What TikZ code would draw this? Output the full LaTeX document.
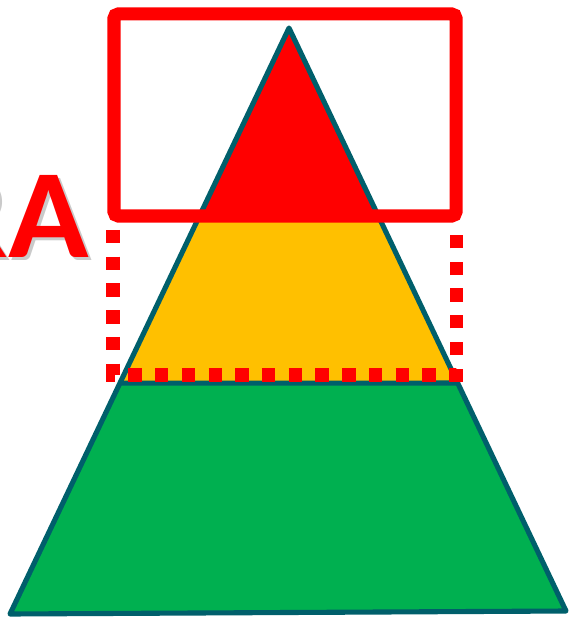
\documentclass[tikz,border=0pt]{standalone}
\usepackage{fontspec}
\setmainfont{Carlito}
\usepackage{xcolor}
\usepackage{tikz}
\usetikzlibrary{calc}

\definecolor{edgeteal}{HTML}{005F6B}
\definecolor{topred}{HTML}{FF0000}
\definecolor{midorange}{HTML}{FFC000}
\definecolor{basegreen}{HTML}{00B050}

\begin{document}
\begin{tikzpicture}[
  x=0.01cm, y=-0.01cm,
  edge/.style={draw=edgeteal, line width=1.45pt, line join=round},
  frame/.style={draw=topred, line width=3.7pt, rounded corners=1.2pt},
  dots/.style={draw=topred, line width=3.7pt, dash pattern=on 3.8pt off 3.8pt},
  bigtext/.style={font=\fontsize{36}{36}\selectfont\bfseries, inner sep=0pt, anchor=base east, xscale=1.05}
]
\useasboundingbox (0,0) rectangle (569,619);

% corners of the pyramid
\coordinate (apex) at (289,28);
\coordinate (bl) at (10,614);
\coordinate (br) at (566,611);
\coordinate (tl) at ($(apex)!0.324!(bl)$);
\coordinate (tr) at ($(apex)!0.326!(br)$);
\coordinate (ml) at ($(apex)!0.606!(bl)$);
\coordinate (mr) at ($(apex)!0.609!(br)$);

% the three bands
\fill[topred] (apex) -- (tl) -- (tr) -- cycle;
\fill[midorange] (tl) -- (ml) -- (mr) -- (tr) -- cycle;
\fill[basegreen] (ml) -- (bl) -- (br) -- (mr) -- cycle;
\draw[edge] (apex) -- (bl) -- (br) -- cycle;
\draw[edge] (ml) -- (mr);

% highlight box
\draw[frame] (114,14) rectangle (456,216);
\draw[dots] (113,230) -- (113,375) -- (456,375) -- (456,230);

% label, cut at the left border
\node[bigtext, text=black!35, opacity=0.6] (rashadow) at (93,261) {RA};
\node[bigtext, text=topred] (ra) at (90,258) {RA};

\end{tikzpicture}
\end{document}
